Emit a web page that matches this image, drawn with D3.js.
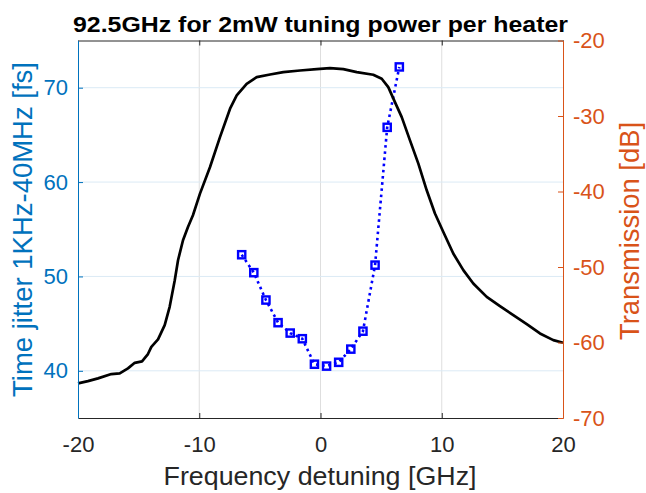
<!DOCTYPE html>
<html>
<head>
<meta charset="utf-8">
<script src="https://cdn.jsdelivr.net/npm/d3@7"></script>
<style>
  body { margin: 0; background: #fff; }
  svg { display: block; font-family: "Liberation Sans", Arial, sans-serif; }
</style>
</head>
<body>
<div id="container"></div>
<script>
// jitter measurements (left axis)
const jitterGHz = [-6.5, -5.5, -4.5, -3.5, -2.5, -1.5, -0.5, 0.5, 1.5, 2.5, 3.5, 4.5, 5.5, 6.5];
const jitterFs = [52.3, 50.4, 47.5, 45.1, 44.0, 43.4, 40.7, 40.5, 40.9, 42.3, 44.2, 51.2, 65.8, 72.2];

// filter transmission (right axis)
const transGHz = [-20, -19.18, -18.35, -17.25, -16.56, -15.88, -15.32, -14.72, -14.23, -13.95, -13.4,
  -12.85, -12.44, -12.02, -11.75, -11.34, -10.93, -10.52, -9.94, -9.11, -8.29, -7.46, -6.91, -6.09,
  -5.26, -4.16, -3.07, -1.69, -0.31, 0.78, 1.88, 2.99, 4.35, 5.05, 5.59, 6.14, 6.7, 7.38, 8.07, 8.76,
  9.44, 10.13, 10.95, 11.78, 12.6, 13.71, 14.8, 15.9, 17.01, 18.1, 19.2, 20];
const transDb = [-65.41, -65.11, -64.75, -64.18, -64.09, -63.43, -62.69, -62.5, -61.53, -60.57, -59.59,
  -57.7, -55.28, -51.75, -49.1, -46.46, -44.7, -43.15, -40.28, -36.76, -32.79, -29.03, -27.28, -25.73,
  -24.85, -24.5, -24.19, -23.97, -23.8, -23.66, -23.8, -24.19, -24.54, -25.07, -26.18, -28.16, -30.15,
  -33.23, -36.31, -39.84, -42.92, -45.36, -48.21, -50.42, -52.18, -53.96, -55.19, -56.38, -57.57,
  -58.8, -59.68, -60.04];

const xTicks = [-20, -10, 0, 10, 20];
const leftTicks = [40, 50, 60, 70];
const rightTicks = [-70, -60, -50, -40, -30, -20];

const titleText = "92.5GHz for 2mW tuning power per heater";
const xLabel = "Frequency detuning [GHz]";
const leftLabel = "Time jitter 1KHz-40MHz [fs]";
const rightLabel = "Transmission [dB]";

let w = 646;
let h = 493;
let padL = 78, padR = 563, padT = 40.5, padB = 418;

const blue = "#0072BD";
const orange = "#D95319";
const dark = "#262626";
const fontFam = "Liberation Sans, Arial, sans-serif";

// plain hyphen minus, like the reference
function fmt(d) { return String(d); }

let svg = d3.select("#container")
  .append("svg")
    .attr("width", w)
    .attr("height", h);

let xScale = d3.scaleLinear().domain([-20, 20]).range([padL, padR]);
let yLeft = d3.scaleLinear().domain([35, 75]).range([padB, padT]);
let yRight = d3.scaleLinear().domain([-70, -20]).range([padB, padT]);

// grid
let grid = svg.append("g");
grid.selectAll(".vg").data(xTicks.filter(d => d > -20 && d < 20)).enter()
  .append("line")
    .attr("x1", d => xScale(d)).attr("x2", d => xScale(d))
    .attr("y1", padT).attr("y2", padB)
    .attr("stroke", "#dedede").attr("stroke-width", 1);
grid.selectAll(".hg").data(leftTicks).enter()
  .append("line")
    .attr("x1", padL).attr("x2", padR)
    .attr("y1", d => yLeft(d)).attr("y2", d => yLeft(d))
    .attr("stroke", "#dbeaf5").attr("stroke-width", 1);

// jitter series
let jitter = jitterGHz.map((g, i) => ({ x: g, y: jitterFs[i] }));
svg.append("path")
  .datum(jitter)
  .attr("fill", "none")
  .attr("stroke", "#0000FF")
  .attr("stroke-width", 2.6)
  .attr("stroke-dasharray", "2.6,3.6")
  .attr("d", d3.line().x(d => xScale(d.x)).y(d => yLeft(d.y)));

svg.selectAll(".mk").data(jitter).enter()
  .append("rect")
    .attr("x", d => xScale(d.x) - 3.6)
    .attr("y", d => yLeft(d.y) - 3.6)
    .attr("width", 7.2).attr("height", 7.2)
    .attr("fill", "none")
    .attr("stroke", "#0000FF")
    .attr("stroke-width", 2.4);

// transmission trace
let trans = transGHz.map((g, i) => ({ x: g, y: transDb[i] }));
svg.append("path")
  .datum(trans)
  .attr("fill", "none")
  .attr("stroke", "#000")
  .attr("stroke-width", 2.7)
  .attr("stroke-linejoin", "round")
  .attr("d", d3.line().x(d => xScale(d.x)).y(d => yRight(d.y)));

// axes
let xAxis = svg.append("g")
  .attr("transform", "translate(0," + padB + ")")
  .call(d3.axisBottom(xScale).tickValues(xTicks).tickSizeInner(-5).tickSizeOuter(0).tickPadding(18.5)
    .tickFormat(fmt));
xAxis.select(".domain").attr("stroke", dark);
xAxis.selectAll("line").attr("stroke", dark);
xAxis.selectAll("text").attr("fill", dark).attr("font-size", 22).style("font-family", fontFam);

let topAxis = svg.append("g")
  .attr("transform", "translate(0," + padT + ")")
  .call(d3.axisTop(xScale).tickValues(xTicks).tickSizeInner(-5).tickSizeOuter(0).tickFormat(""));
topAxis.select(".domain").attr("stroke", dark);
topAxis.selectAll("line").attr("stroke", dark);

let lAxis = svg.append("g")
  .attr("transform", "translate(" + padL + ",0)")
  .call(d3.axisLeft(yLeft).tickValues(leftTicks).tickSizeInner(-5).tickSizeOuter(0).tickPadding(10)
    .tickFormat(fmt));
lAxis.select(".domain").attr("stroke", blue);
lAxis.selectAll("line").attr("stroke", blue);
lAxis.selectAll("text").attr("fill", blue).attr("font-size", 22).style("font-family", fontFam);

let rAxis = svg.append("g")
  .attr("transform", "translate(" + padR + ",0)")
  .call(d3.axisRight(yRight).tickValues(rightTicks).tickSizeInner(-5).tickSizeOuter(0).tickPadding(10)
    .tickFormat(fmt));
rAxis.select(".domain").attr("stroke", orange);
rAxis.selectAll("line").attr("stroke", orange);
rAxis.selectAll("text").attr("fill", orange).attr("font-size", 22).style("font-family", fontFam);

// labels
svg.append("text")
  .text(titleText)
  .attr("x", 320.5).attr("y", 32)
  .attr("text-anchor", "middle")
  .attr("font-weight", "bold")
  .attr("font-size", 22)
  .attr("textLength", 495).attr("lengthAdjust", "spacingAndGlyphs")
  .attr("fill", "#000");

svg.append("text")
  .text(xLabel)
  .attr("x", 320).attr("y", 485)
  .attr("text-anchor", "middle")
  .attr("font-size", 25)
  .attr("textLength", 313).attr("lengthAdjust", "spacingAndGlyphs")
  .attr("fill", dark);

svg.append("text")
  .text(leftLabel)
  .attr("transform", "translate(32,229.5) rotate(-90)")
  .attr("text-anchor", "middle")
  .attr("font-size", 28)
  .attr("textLength", 335).attr("lengthAdjust", "spacingAndGlyphs")
  .attr("fill", blue);

svg.append("text")
  .text(rightLabel)
  .attr("transform", "translate(639,231) rotate(-90)")
  .attr("text-anchor", "middle")
  .attr("font-size", 27)
  .attr("textLength", 218).attr("lengthAdjust", "spacingAndGlyphs")
  .attr("fill", orange);
</script>
</body>
</html>
